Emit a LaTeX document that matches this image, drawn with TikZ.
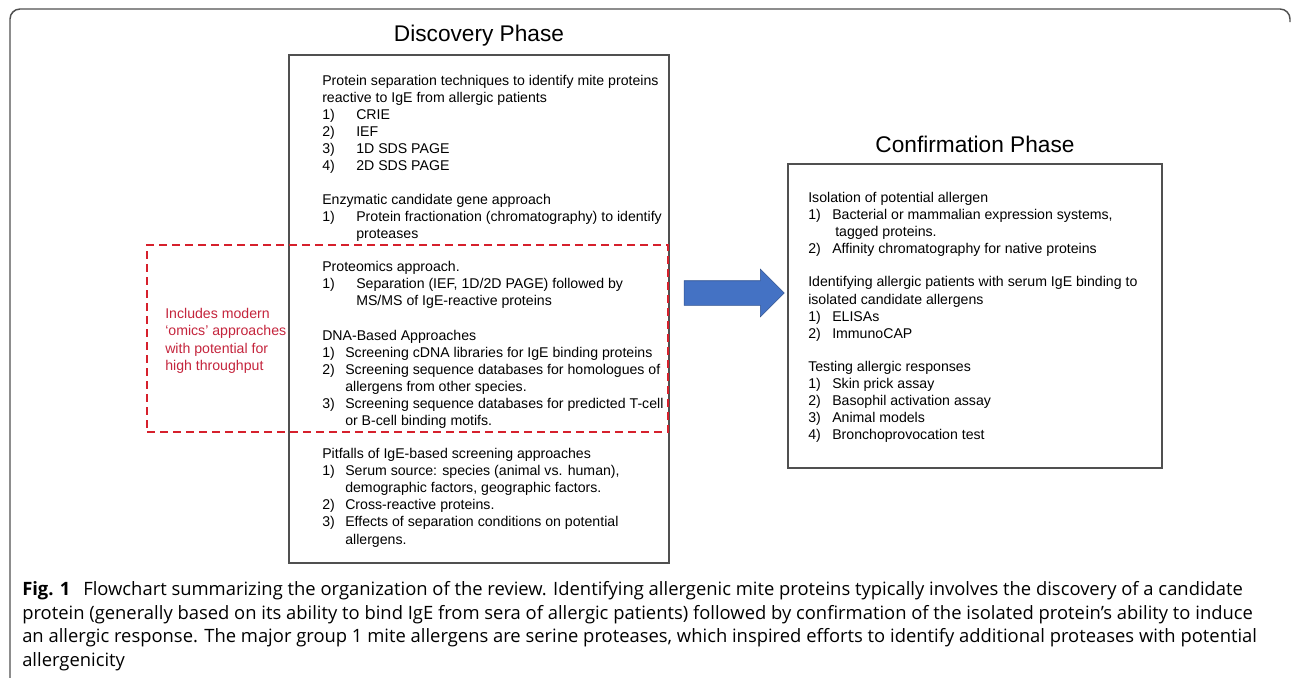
\documentclass[tikz,border=0pt]{standalone}
\usepackage{fontspec}
\setmainfont{Liberation Sans}
\newfontfamily\capfont{Open Sans}
\usetikzlibrary{%
  arrows,%
  shapes.arrows,% wg. single arrow
  positioning,% wg. " of "
  calc
}

\definecolor{arrowblue}{RGB}{68,114,196}
\definecolor{arrowedge}{RGB}{47,82,143}
\definecolor{omicsred}{RGB}{214,32,44}
\definecolor{omicstext}{RGB}{196,36,60}
\definecolor{boxgray}{RGB}{80,80,80}

\newcommand{\numA}[1]{\makebox[25.5pt][l]{#1}}
\newcommand{\numB}[1]{\makebox[17.25pt][l]{#1}}
\newcommand{\numC}[1]{\makebox[18pt][l]{#1}}

\begin{document}
\begin{tikzpicture}
  [
  x=0.75pt, y=-0.75pt,
  phase/.style={rectangle, draw=boxgray, line width=0.9pt, inner sep=0pt},
  title/.style={font=\fontsize{17}{20}\selectfont, inner sep=0pt, text depth=0pt},
  section/.style={anchor=north west, inner sep=0pt, align=left, font=\fontsize{10.6}{12.8}\selectfont, execute at begin node=\strut, execute at end node=\strut},
  omics/.style={rectangle, draw=omicsred, line width=1.5pt, dash pattern=on 6pt off 3.75pt, inner sep=0pt},
  bigarrow/.style={single arrow, draw=arrowedge, fill=arrowblue, line width=0.4pt, inner sep=0pt, text height=9pt, text depth=9pt, minimum height=75pt, single arrow head extend=8.625pt, single arrow head indent=0pt},
  caption/.style={anchor=north west, inner sep=0pt, align=left, font=\capfont\fontsize{13.8}{17.8}\selectfont, execute at begin node=\strut}
  ]
\useasboundingbox (0,0) rectangle (1293,678);

% outer frame
\draw[boxgray, line width=1.1pt, rounded corners=7.5pt] (10,678) -- (10,9) -- (1290,9) -- (1290,22);

% phases
\node[phase, minimum width=285pt, minimum height=381pt] (disc) at (479,309) {};
\node[phase, minimum width=280.5pt, minimum height=228pt] (conf) at (975,316) {};
\node[title, above=9.75pt of disc] (disctitle) {Discovery Phase};
\node[title, above=8.25pt of conf] (conftitle) {Confirmation Phase};

% discovery
\node[section] (sep) at (322,75) {Protein separation techniques to identify mite proteins\\
  reactive to IgE from allergic patients\\
  \numA{1)}CRIE\\
  \numA{2)}IEF\\
  \numA{3)}1D SDS PAGE\\
  \numA{4)}2D SDS PAGE};
\node[section, below=13pt of sep.south west, anchor=north west] (enz) {Enzymatic candidate gene approach\\
  \numA{1)}Protein fractionation (chromatography) to identify\\
  \hspace*{25.5pt}proteases};
\node[section, below=13pt of enz.south west, anchor=north west] (prot) {Proteomics approach.\\
  \numA{1)}Separation (IEF, 1D/2D PAGE) followed by\\
  \hspace*{25.5pt}MS/MS of IgE-reactive proteins};
\node[section, below=14pt of prot.south west, anchor=north west] (dna) {DNA-Based Approaches\\
  \numB{1)}Screening cDNA libraries for IgE binding proteins\\
  \numB{2)}Screening sequence databases for homologues of\\
  \hspace*{17.25pt}allergens from other species.\\
  \numB{3)}Screening sequence databases for predicted T-cell\\
  \hspace*{17.25pt}or B-cell binding motifs.};
\node[section, below=13pt of dna.south west, anchor=north west] (pitf) {Pitfalls of IgE-based screening approaches\\
  \numB{1)}Serum source: species (animal vs. human),\\
  \hspace*{17.25pt}demographic factors, geographic factors.\\
  \numB{2)}Cross-reactive proteins.\\
  \numB{3)}Effects of separation conditions on potential\\
  \hspace*{17.25pt}allergens.};

% omics
\node[omics, minimum width=390.75pt, minimum height=140.25pt] (omicsbox) at (407.5,338.5) {};
\node[section, text=omicstext, font=\fontsize{10.6}{13}\selectfont] (omicsnote) at (165,308) {Includes modern\\
  ‘omics’ approaches\\
  with potential for\\
  high throughput};

\node[bigarrow] (arrow) at (728,293) {};

% confirmation
\node[section] (iso) at (808,192) {Isolation of potential allergen\\
  \numC{1)}Bacterial or mammalian expression systems,\\
  \hspace*{20.25pt}tagged proteins.\\
  \numC{2)}Affinity chromatography for native proteins};
\node[section, below=13pt of iso.south west, anchor=north west] (ident) {Identifying allergic patients with serum IgE binding to\\
  isolated candidate allergens\\
  \numC{1)}ELISAs\\
  \numC{2)}ImmunoCAP};
\node[section, below=13pt of ident.south west, anchor=north west] (test) {Testing allergic responses\\
  \numC{1)}Skin prick assay\\
  \numC{2)}Basophil activation assay\\
  \numC{3)}Animal models\\
  \numC{4)}Bronchoprovocation test};

% caption
\node[caption] (cap) at (22,581) {{\bfseries Fig. 1}\hspace{6pt} Flowchart summarizing the organization of the review. Identifying allergenic mite proteins typically involves the discovery of a candidate\\
  protein (generally based on its ability to bind IgE from sera of allergic patients) followed by confirmation of the isolated protein’s ability to induce\\
  an allergic response. The major group 1 mite allergens are serine proteases, which inspired efforts to identify additional proteases with potential\\
  allergenicity};
\end{tikzpicture}
\end{document}
